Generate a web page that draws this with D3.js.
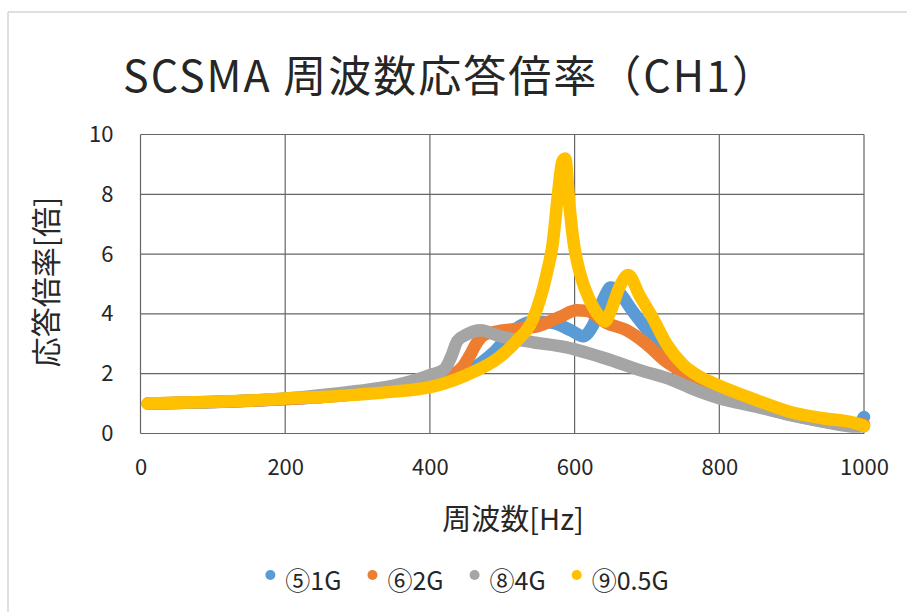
<!DOCTYPE html>
<html>
<head>
<meta charset="utf-8">
<script src="https://cdn.jsdelivr.net/npm/d3@7"></script>
<style>
  html, body { margin: 0; padding: 0; background: #ffffff; }
  svg { display: block; }
  text { font-family: "Noto Sans CJK JP", "Noto Sans", sans-serif; fill: #262626; }
</style>
</head>
<body>
<svg id="chart" width="907" height="612"></svg>
<script>
// Response magnification of the SCSMA unit (CH1) vs. excitation frequency
const chartTitle = "SCSMA 周波数応答倍率（CH1）";
const xTitle = "周波数[Hz]";
const yTitle = "応答倍率[倍]";

const xTicks = [0, 200, 400, 600, 800, 1000];
const yTicks = [0, 2, 4, 6, 8, 10];

const seriesNames = ["⑤1G", "⑥2G", "⑧4G", "⑨0.5G"];
const seriesColors = ["#5B9BD5", "#ED7D31", "#A5A5A5", "#FFC000"];

// [frequency Hz, magnification]
const resp1G = [
  [10,1.0],[50,1.02],[100,1.05],[150,1.1],[200,1.15],[250,1.22],[300,1.32],[350,1.45],
  [400,1.65],[430,1.85],[450,2.05],[470,2.35],[490,2.75],[510,3.3],[525,3.6],[545,3.75],
  [570,3.7],[595,3.45],[612,3.25],[625,3.6],[640,4.5],[650,4.88],[660,4.75],[680,4.1],
  [704,3.35],[722,2.8],[740,2.35],[760,1.95],[780,1.65],[800,1.4],[850,0.95],[900,0.62],
  [950,0.38],[990,0.28],[1000,0.55]
];
const resp2G = [
  [10,1.0],[100,1.05],[200,1.15],[300,1.33],[400,1.7],[430,1.95],[446,2.25],[455,2.6],
  [464,3.0],[475,3.3],[490,3.4],[520,3.5],[550,3.6],[580,3.9],[603,4.12],[617,4.1],
  [644,3.7],[672,3.45],[699,3.0],[727,2.4],[754,2.0],[773,1.75],[800,1.45],[850,1.0],
  [900,0.65],[950,0.4],[1000,0.3]
];
const resp4G = [
  [10,1.0],[100,1.05],[200,1.17],[300,1.42],[350,1.6],[400,1.95],[420,2.15],[430,2.6],
  [438,3.1],[450,3.3],[470,3.45],[497,3.25],[543,3.05],[589,2.88],[617,2.7],[644,2.5],
  [690,2.12],[736,1.78],[773,1.4],[800,1.18],[851,0.9],[897,0.62],[943,0.4],[989,0.23],
  [1000,0.25]
];
const resp05G = [
  [10,1.0],[50,1.03],[100,1.06],[150,1.1],[200,1.17],[250,1.22],[300,1.3],[350,1.4],
  [400,1.55],[450,1.95],[497,2.57],[520,3.1],[542,3.8],[561,5.3],[570,6.4],[577,8.0],
  [583,9.1],[587,9.2],[593,7.6],[598,6.5],[607,5.4],[621,4.45],[635,3.9],[642,3.75],
  [650,4.1],[662,4.9],[674,5.3],[690,4.6],[706,3.95],[727,3.0],[750,2.3],[773,1.9],
  [800,1.6],[851,1.12],[897,0.73],[943,0.51],[989,0.34],[1000,0.25]
];
const allSeries = [resp1G, resp2G, resp4G, resp05G];

const svg = d3.select("#chart");

// chart frame (only top and left edges visible)
svg.append("line").attr("x1", 8).attr("y1", 12).attr("x2", 907).attr("y2", 12)
  .attr("stroke", "#d4d4d4").attr("stroke-width", 1.5);
svg.append("line").attr("x1", 8).attr("y1", 12).attr("x2", 8).attr("y2", 612)
  .attr("stroke", "#d4d4d4").attr("stroke-width", 1.5);

const plot = { left: 140.5, right: 864, top: 134.5, bottom: 433.5 };
const x = d3.scaleLinear().domain([0, 1000]).range([plot.left, plot.right]);
const y = d3.scaleLinear().domain([0, 10]).range([plot.bottom, plot.top]);

const gridColor = "#666666";

// gridlines
const grid = svg.append("g");
grid.selectAll(".hg").data(yTicks).join("line")
  .attr("x1", plot.left).attr("x2", plot.right)
  .attr("y1", d => y(d)).attr("y2", d => y(d))
  .attr("stroke", gridColor).attr("stroke-width", 1.2);
grid.selectAll(".vg").data(xTicks).join("line")
  .attr("y1", plot.top).attr("y2", plot.bottom)
  .attr("x1", d => x(d)).attr("x2", d => x(d))
  .attr("stroke", gridColor).attr("stroke-width", 1.2);

// axes (labels only, no domain line)
const xAxis = svg.append("g").attr("transform", `translate(0,${plot.bottom})`)
  .call(d3.axisBottom(x).tickValues(xTicks).tickFormat(d3.format("d")).tickSize(0).tickPadding(26));
const yAxis = svg.append("g").attr("transform", `translate(${plot.left},0)`)
  .call(d3.axisLeft(y).tickValues(yTicks).tickFormat(d3.format("d")).tickSize(0).tickPadding(27));
[xAxis, yAxis].forEach(a => {
  a.select(".domain").remove();
  a.selectAll("text").style("font-size", "22px").attr("fill", "#262626")
    .style("font-family", "'Noto Sans CJK JP', sans-serif");
});

// series
const line = d3.line().x(d => x(d[0])).y(d => y(d[1])).curve(d3.curveMonotoneX);
svg.append("g").selectAll("path").data(allSeries).join("path")
  .attr("d", line)
  .attr("fill", "none")
  .attr("stroke", (d, i) => seriesColors[i])
  .attr("stroke-width", 12.5)
  .attr("stroke-linecap", "round")
  .attr("stroke-linejoin", "round");

// title
svg.append("text").attr("x", 450).attr("y", 92)
  .attr("text-anchor", "middle").style("font-size", "43px")
  .style("letter-spacing", "2px").text(chartTitle);

// axis titles
svg.append("text").attr("x", 513).attr("y", 530)
  .attr("text-anchor", "middle").style("font-size", "29px").text(xTitle);
svg.append("text").attr("transform", "translate(57,282) rotate(-90)")
  .attr("text-anchor", "middle").style("font-size", "30px").text(yTitle);

// legend
const legend = svg.append("g");
let lx = 0;
seriesNames.forEach((name, i) => {
  const g = legend.append("g");
  g.append("circle").attr("cx", 5).attr("cy", -15).attr("r", 5).attr("fill", seriesColors[i]);
  const t = g.append("text").attr("x", 20).attr("y", 0).style("font-size", "25px").text(name);
  const w = 20 + t.node().getComputedTextLength();
  g.attr("transform", `translate(${lx},0)`);
  lx += w + 26;
});
const legendWidth = lx - 26;
legend.attr("transform", `translate(${467 - legendWidth / 2},590)`);
</script>
</body>
</html>
